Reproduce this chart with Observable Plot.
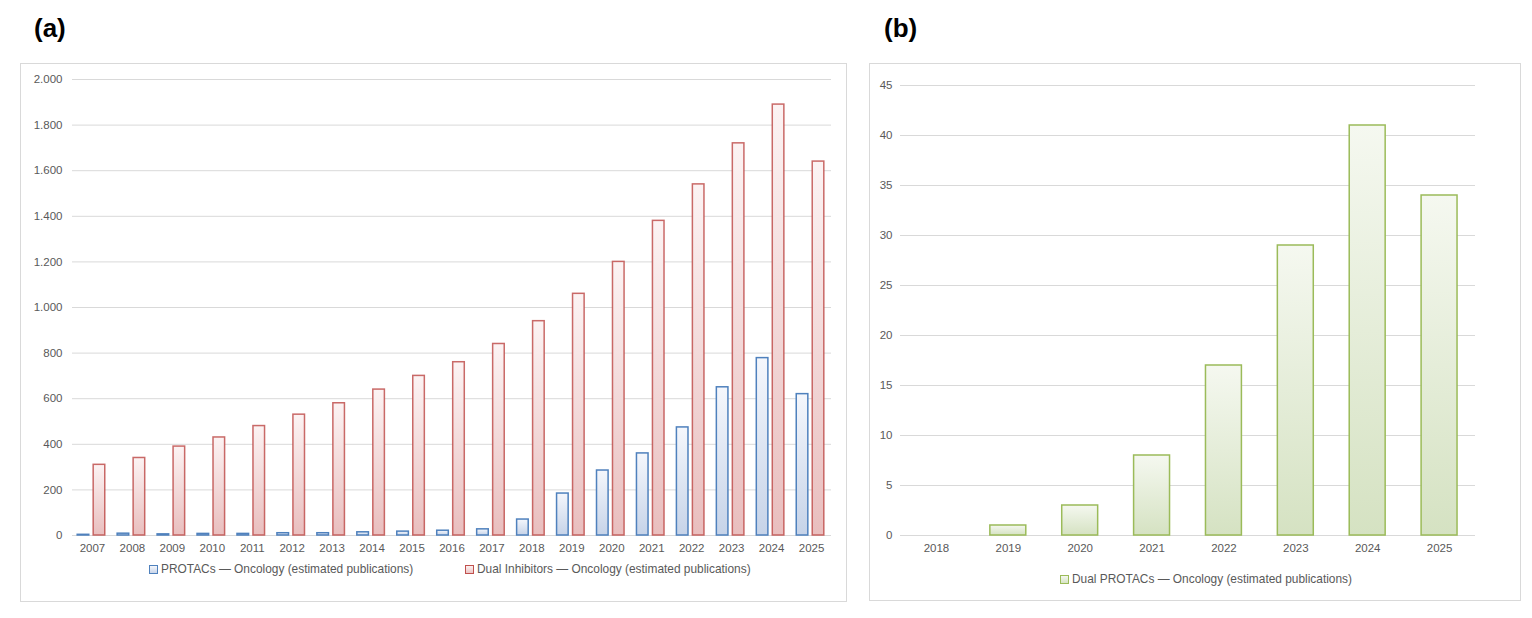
<!DOCTYPE html>
<html>
<head>
<meta charset="utf-8">
<script src="https://cdn.jsdelivr.net/npm/d3@7"></script>
<script src="https://cdn.jsdelivr.net/npm/@observablehq/plot@0.6"></script>
<style>
  body { margin: 0; background: #fff; }
  #page { position: relative; width: 1532px; height: 618px; font-family: "Liberation Sans", Arial, sans-serif; color: #595959; }
  .tag { position: absolute; font-weight: bold; font-size: 26px; color: #000; }
  .frame { position: absolute; border: 1px solid #d9d9d9; box-sizing: border-box; }
  .chart { position: absolute; }
  .legend { position: absolute; font-size: 11.9px; color: #595959; white-space: nowrap; display: flex; align-items: center; }
  .sw { display: inline-block; width: 7px; height: 7px; margin-right: 3px; }
</style>
</head>
<body>
<div id="page">
  <div class="tag" style="left:34px;top:13px">(a)</div>
  <div class="tag" style="left:884px;top:13px">(b)</div>
  <div class="frame" style="left:20px;top:63px;width:827px;height:539px"></div>
  <div class="frame" style="left:869px;top:63px;width:652px;height:538px"></div>
  <div class="chart" id="chartA" style="left:20px;top:63px"></div>
  <div class="chart" id="chartB" style="left:869px;top:63px"></div>
  <div class="legend" style="left:149px;top:562px">
    <span class="sw" style="border:1.5px solid #4f81bd;background:linear-gradient(#f4f6fb,#c9d5e9)"></span>PROTACs — Oncology (estimated publications)
  </div>
  <div class="legend" style="left:465px;top:562px">
    <span class="sw" style="border:1.5px solid #c0504d;background:linear-gradient(#fbf1f1,#ecc4c4)"></span>Dual Inhibitors — Oncology (estimated publications)
  </div>
  <div class="legend" style="left:1060px;top:572px">
    <span class="sw" style="border:1.5px solid #9bbb59;background:linear-gradient(#f4f7ef,#d7e4c5)"></span>Dual PROTACs — Oncology (estimated publications)
  </div>
</div>
<script>
// Panel (a): estimated oncology publications per year
const years = ["2007","2008","2009","2010","2011","2012","2013","2014","2015","2016","2017","2018","2019","2020","2021","2022","2023","2024","2025"];
const protacs = [3, 8, 5, 7, 7, 10, 10, 14, 17, 21, 27, 70, 184, 285, 360, 474, 650, 778, 620];
const dualInhibitors = [310, 340, 390, 430, 480, 530, 580, 640, 700, 760, 840, 940, 1060, 1200, 1380, 1540, 1720, 1890, 1640];
const yTicksA = [0, 200, 400, 600, 800, 1000, 1200, 1400, 1600, 1800, 2000];

// Panel (b): dual PROTACs in oncology
const dualYears = ["2018","2019","2020","2021","2022","2023","2024","2025"];
const dualProtacs = [0, 1, 3, 8, 17, 29, 41, 34];
const yTicksB = [0, 5, 10, 15, 20, 25, 30, 35, 40, 45];

const axisStyle = { fontFamily: "'Liberation Sans', Arial, sans-serif", fontSize: "11.5px", color: "#595959", background: "transparent" };
const dotThousands = d => d3.format(",")(d).replace(/,/g, ".");

function addGradient(svg, id, top, bottom) {
  const defs = d3.select(svg).insert("defs", ":first-child");
  const g = defs.append("linearGradient").attr("id", id).attr("x1", 0).attr("y1", 0).attr("x2", 0).attr("y2", 1);
  g.append("stop").attr("offset", "0%").attr("stop-color", top);
  g.append("stop").attr("offset", "100%").attr("stop-color", bottom);
}

// ---- Chart (a): two bars per year, placed side by side inside each year's band
{
  const width = 826, height = 495, mL = 52, mR = 15;
  const bw = (width - mL - mR) / years.length;
  const rowsA = years.map((y, i) => ({ year: y, protacs: protacs[i], dual: dualInhibitors[i] }));
  const svg = Plot.plot({
    width, height,
    marginLeft: mL, marginRight: mR, marginTop: 16, marginBottom: 23,
    style: axisStyle,
    x: { type: "band", domain: years, padding: 0, round: false, tickSize: 0, tickPadding: 8, label: null },
    y: { domain: [0, 2000], ticks: yTicksA, tickSize: 0, tickPadding: 10, tickFormat: dotThousands, label: null },
    marks: [
      Plot.ruleY(yTicksA, { stroke: "#d9d9d9", strokeWidth: 1 }),
      Plot.barY(rowsA, { x: "year", y: "protacs", fill: "url(#gradBlue)", stroke: "#4f81bd", strokeWidth: 1.5,
        insetLeft: 0.13 * bw, insetRight: 0.58 * bw }),
      Plot.barY(rowsA, { x: "year", y: "dual", fill: "url(#gradRed)", stroke: "#c0504d", strokeWidth: 1.5, strokeOpacity: 0.85,
        insetLeft: 0.53 * bw, insetRight: 0.18 * bw })
    ]
  });
  addGradient(svg, "gradBlue", "#f5f7fc", "#c6d3e8");
  addGradient(svg, "gradRed", "#fcf3f3", "#e9bebe");
  document.getElementById("chartA").appendChild(svg);
}

// ---- Chart (b)
{
  const rowsB = dualYears.map((y, i) => ({ year: y, value: dualProtacs[i] }));
  const svg = Plot.plot({
    width: 651, height: 495,
    marginLeft: 31, marginRight: 45, marginTop: 22, marginBottom: 23,
    style: axisStyle,
    x: { type: "band", domain: dualYears, paddingInner: 0.5, paddingOuter: 0.25, round: false, tickSize: 0, tickPadding: 8, label: null },
    y: { domain: [0, 45], ticks: yTicksB, tickSize: 0, tickPadding: 8, label: null },
    marks: [
      Plot.ruleY(yTicksB, { stroke: "#d9d9d9", strokeWidth: 1 }),
      Plot.barY(rowsB.filter(d => d.value > 0), { x: "year", y: "value", fill: "url(#gradGreen)", stroke: "#9bbb59", strokeWidth: 1.5 })
    ]
  });
  addGradient(svg, "gradGreen", "#f5f8f0", "#d5e2c2");
  document.getElementById("chartB").appendChild(svg);
}
</script>
</body>
</html>
